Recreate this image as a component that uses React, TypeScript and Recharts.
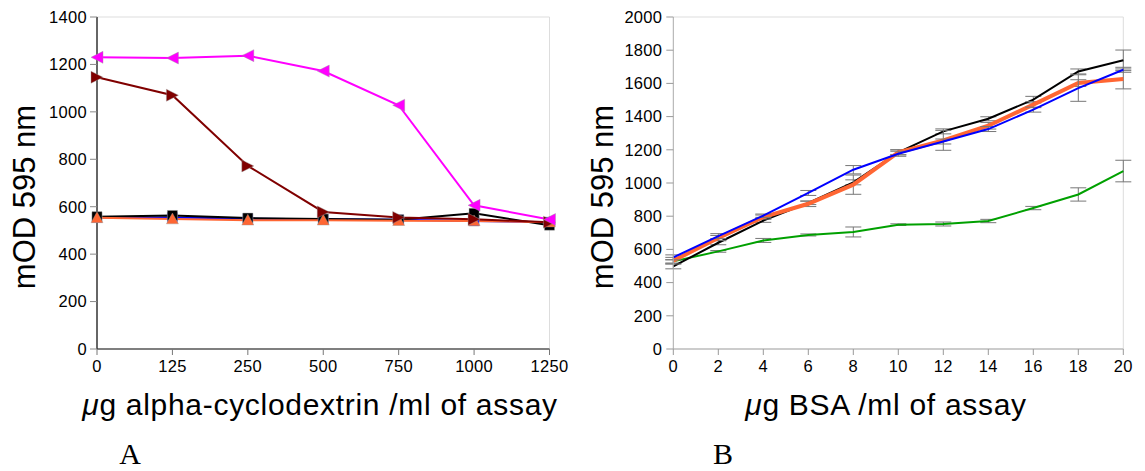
import React from 'react';
import { LineChart, Line, XAxis, YAxis, ReferenceLine, ErrorBar } from 'recharts';

// ---------- Panel A data ----------
const cyclodextrinDoses = ['0', '125', '250', '500', '750', '1000', '1250'];
const magentaA = [1230, 1227, 1237, 1172, 1028, 606, 546];
const darkRedA = [1146, 1070, 772, 578, 555, 547, 535];
const blackA = [558, 563, 552, 548, 545, 572, 522];
const blueA = [555, 555, 550, 547, 545, 540, 535];
const orangeA = [553, 548, 543, 543, 541, 540, 535];
const yTicksA = [0, 200, 400, 600, 800, 1000, 1200, 1400];

// ---------- Panel B data ----------
const bsaDoses = [0, 2, 4, 6, 8, 10, 12, 14, 16, 18, 20];
const blackB = [498, 640, 773, 880, 1004, 1185, 1311, 1387, 1502, 1672, 1739];
const blueB = [552, 680, 803, 940, 1080, 1176, 1250, 1325, 1442, 1572, 1682];
const orangeB = [532, 669, 795, 875, 990, 1185, 1257, 1345, 1472, 1602, 1627];
const greenB = [528, 588, 654, 687, 705, 749, 753, 771, 849, 931, 1072];
const errBlackB = [15, 12, 10, 10, 15, 15, 15, 12, 20, 15, 62];
const errBlueB = [15, 15, 10, 15, 25, 15, 15, 15, 15, 80, 15];
const errOrangeB = [20, 15, 12, 17, 58, 15, 60, 20, 18, 20, 60];
const errGreenB = [10, 5, 12, 6, 30, 5, 12, 10, 10, 40, 65];
const xTicksB = [0, 2, 4, 6, 8, 10, 12, 14, 16, 18, 20];
const yTicksB = [0, 200, 400, 600, 800, 1000, 1200, 1400, 1600, 1800, 2000];

const dataA = cyclodextrinDoses.map((d, i) => ({
  dose: d,
  magenta: magentaA[i],
  darkRed: darkRedA[i],
  black: blackA[i],
  blue: blueA[i],
  orange: orangeA[i],
}));

const dataB = bsaDoses.map((d, i) => ({
  dose: d,
  black: blackB[i],
  blue: blueB[i],
  orange: orangeB[i],
  green: greenB[i],
  errBlack: errBlackB[i],
  errBlue: errBlueB[i],
  errOrange: errOrangeB[i],
  errGreen: errGreenB[i],
}));

const SANS = '"Liberation Sans", Arial, Helvetica, sans-serif';
const TICK_FS = 16.5;

const XTick = (props: any) => (
  <text x={props.x} y={props.y} dy="0.71em" textAnchor="middle" fontFamily={SANS} fontSize={TICK_FS} letterSpacing={0.3} fill="#000">
    {props.payload.value}
  </text>
);

const YTick = (props: any) => (
  <text x={props.x} y={props.y} dy="0.355em" textAnchor="end" fontFamily={SANS} fontSize={TICK_FS} letterSpacing={0.3} fill="#000">
    {props.payload.value}
  </text>
);

type Shape = 'left' | 'right' | 'up' | 'square';

const makeDot = (shape: Shape, color: string, size: number) => (props: any) => {
  const { cx, cy, index } = props;
  if (cx == null || cy == null) return <g key={`n-${index}`} />;
  const s = size / 2;
  let d = '';
  if (shape === 'left') d = `M${cx - s},${cy} L${cx + s},${cy - s} L${cx + s},${cy + s} Z`;
  else if (shape === 'right') d = `M${cx + s},${cy} L${cx - s},${cy - s} L${cx - s},${cy + s} Z`;
  else if (shape === 'up') d = `M${cx},${cy - s} L${cx + s},${cy + s * 0.8} L${cx - s},${cy + s * 0.8} Z`;
  else d = `M${cx - s},${cy - s} L${cx + s},${cy - s} L${cx + s},${cy + s} L${cx - s},${cy + s} Z`;
  return <path key={`${shape}-${index}`} d={d} fill={color} stroke="#999" strokeWidth={0.4} />;
};

const XLabel = (text: string, cx: number) => (props: any) => {
  const vb = props.viewBox || { y: 0 };
  return (
    <text x={cx} y={vb.y + 66} textAnchor="middle" fontFamily={SANS} fontSize={30} letterSpacing={0.7} fill="#000">
      <tspan fontStyle="italic">μ</tspan>
      <tspan>{text}</tspan>
    </text>
  );
};

const YLabel = (x: number, y: number) => () => (
  <text x={x} y={y} transform={`rotate(-90 ${x} ${y})`} textAnchor="middle" fontFamily={SANS} fontSize={31} fill="#000">
    mOD 595 nm
  </text>
);

export default function App() {
  return (
    <div style={{ position: 'absolute', left: 0, top: 0, width: 1145, height: 471, background: '#fff' }}>
      {/* Panel A */}
      <div style={{ position: 'absolute', left: 0, top: 0 }}>
        <LineChart width={575} height={430} data={dataA} margin={{ top: 17, right: 25.5, bottom: 0, left: 0 }}>
          <XAxis
            dataKey="dose"
            type="category"
            height={81}
            tick={XTick}
            tickSize={6}
            tickMargin={5}
            axisLine={{ stroke: '#555', strokeWidth: 1.5 }}
            tickLine={{ stroke: '#777' }}
            interval={0}
            padding={{ left: 0, right: 0 }}
            label={{ content: XLabel('g alpha-cyclodextrin /ml of assay', 320) }}
          />
          <YAxis
            width={97}
            domain={[0, 1400]}
            ticks={yTicksA}
            tick={YTick}
            tickSize={7}
            tickMargin={3}
            axisLine={{ stroke: '#333', strokeWidth: 1.5 }}
            tickLine={{ stroke: '#888' }}
            label={{ content: YLabel(35, 197) }}
          />
          <ReferenceLine y={1400} stroke="#ddd" strokeWidth={1} />
          <ReferenceLine x="1250" stroke="#ddd" strokeWidth={1} />
          <Line dataKey="blue" stroke="#0000FF" strokeWidth={2} isAnimationActive={false} dot={makeDot('square', '#0000FF', 10)} />
          <Line dataKey="black" stroke="#000" strokeWidth={2} isAnimationActive={false} dot={makeDot('square', '#000', 10)} />
          <Line dataKey="orange" stroke="#FF6633" strokeWidth={2} isAnimationActive={false} dot={makeDot('up', '#FF6633', 12)} />
          <Line dataKey="darkRed" stroke="#800000" strokeWidth={2} isAnimationActive={false} dot={makeDot('right', '#800000', 12)} />
          <Line dataKey="magenta" stroke="#FF00FF" strokeWidth={2} isAnimationActive={false} dot={makeDot('left', '#FF00FF', 12)} />
        </LineChart>
      </div>

      {/* Panel B */}
      <div style={{ position: 'absolute', left: 580, top: 0 }}>
        <LineChart width={565} height={430} data={dataB} margin={{ top: 17, right: 21.7, bottom: 0, left: 0 }}>
          <XAxis
            dataKey="dose"
            type="number"
            domain={[0, 20]}
            ticks={xTicksB}
            height={81}
            tick={XTick}
            tickSize={6}
            tickMargin={5}
            axisLine={{ stroke: '#bbb', strokeWidth: 1.5 }}
            tickLine={{ stroke: '#999' }}
            interval={0}
            label={{ content: XLabel('g BSA /ml of assay', 306) }}
          />
          <YAxis
            width={93.3}
            domain={[0, 2000]}
            ticks={yTicksB}
            tick={YTick}
            tickSize={7}
            tickMargin={4}
            axisLine={{ stroke: '#aaa', strokeWidth: 1 }}
            tickLine={{ stroke: '#999' }}
            label={{ content: YLabel(33, 197) }}
          />
          <ReferenceLine y={2000} stroke="#ddd" strokeWidth={1} />
          <ReferenceLine x={20} stroke="#ddd" strokeWidth={1} />
          <Line dataKey="green" stroke="#00A000" strokeWidth={2} dot={false} isAnimationActive={false}>
            <ErrorBar dataKey="errGreen" width={8} stroke="#777" strokeWidth={1} direction="y" />
          </Line>
          <Line dataKey="black" stroke="#000" strokeWidth={2} dot={false} isAnimationActive={false}>
            <ErrorBar dataKey="errBlack" width={8} stroke="#777" strokeWidth={1} direction="y" />
          </Line>
          <Line dataKey="orange" stroke="#FF6633" strokeWidth={4} dot={false} isAnimationActive={false}>
            <ErrorBar dataKey="errOrange" width={8} stroke="#777" strokeWidth={1} direction="y" />
          </Line>
          <Line dataKey="blue" stroke="#0000FF" strokeWidth={2} dot={false} isAnimationActive={false}>
            <ErrorBar dataKey="errBlue" width={8} stroke="#777" strokeWidth={1} direction="y" />
          </Line>
        </LineChart>
      </div>

      {/* Panel letters */}
      <svg width={1145} height={471} style={{ position: 'absolute', left: 0, top: 0, pointerEvents: 'none' }}>
        <text x={130} y={464} textAnchor="middle" fontFamily='"Liberation Serif", "Times New Roman", serif' fontSize={30} fill="#000">A</text>
        <text x={723} y={464} textAnchor="middle" fontFamily='"Liberation Serif", "Times New Roman", serif' fontSize={30} fill="#000">B</text>
      </svg>
    </div>
  );
}
